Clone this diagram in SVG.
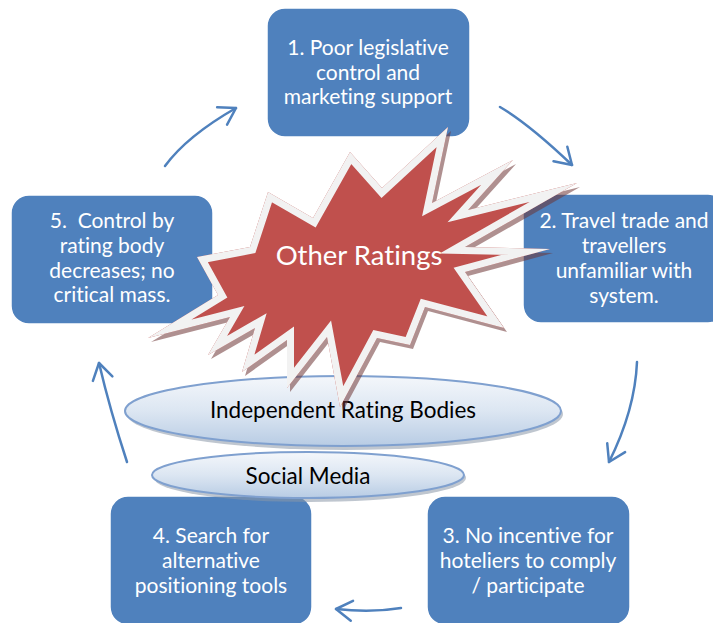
<svg xmlns="http://www.w3.org/2000/svg" xmlns:xlink="http://www.w3.org/1999/xlink" width="713" height="623" viewBox="0 0 713 623">
<style>
text{font-variant-ligatures:none;font-family:Lato,"Liberation Sans",sans-serif;text-anchor:middle}
.box{fill:#4F81BD;stroke:#ffffff;stroke-width:1.5}
.bt{font-size:21px;fill:#ffffff}
.et{font-size:22.5px;fill:#000000}
.arr{fill:none;stroke:#4F81BD;stroke-width:2.5;stroke-linecap:round;marker-end:url(#ah)}
.ell{fill:url(#eg);stroke:#7FA0CF;stroke-width:2}
.esh{fill:#8a97a8;opacity:0.55}
</style>
<defs>
<marker id="ah" markerUnits="userSpaceOnUse" markerWidth="30" markerHeight="30" viewBox="-20 -15 30 30" refX="0" refY="0" orient="auto">
<path d="M-16,-10 L0,0 L-16,10" fill="none" stroke="#4F81BD" stroke-width="2.5" stroke-linecap="round" stroke-linejoin="round"/>
</marker>
<linearGradient id="eg" x1="0" y1="0" x2="0" y2="1">
<stop offset="0" stop-color="#F4F7FB"/>
<stop offset="0.5" stop-color="#DCE6F2"/>
<stop offset="1" stop-color="#B8CCE4"/>
</linearGradient>
<polygon id="starShape" points="350,152 382,188 448,127 432,203 513,160 468,210 577,183 465,247 550,249 465,272 504,328 425,307 410,345 377,338 340,407 327,337 287,388 287,340 242,372 255,328 208,355 230,317 148,338 218,295 197,257 250,247 268,192 313,218"/>
<clipPath id="starClip"><use xlink:href="#starShape"/></clipPath>
</defs>

<g id="box1">
<rect class="box" x="267" y="8" width="203" height="129" rx="18"/>
<text class="bt" x="368" y="55">1. Poor legislative</text>
<text class="bt" x="368" y="80">control and</text>
<text class="bt" x="368" y="104">marketing support</text>
</g>
<g id="box2">
<rect class="box" x="523" y="194" width="203" height="129" rx="18"/>
<text class="bt" x="624" y="228">2. Travel trade and</text>
<text class="bt" x="624" y="253">travellers</text>
<text class="bt" x="624" y="278">unfamiliar with</text>
<text class="bt" x="624" y="303">system.</text>
</g>
<g id="box3">
<rect class="box" x="427" y="496" width="203" height="129" rx="18"/>
<text class="bt" x="528" y="543">3. No incentive for</text>
<text class="bt" x="528" y="568">hoteliers to comply</text>
<text class="bt" x="528" y="593">/ participate</text>
</g>
<g id="box4">
<rect class="box" x="110" y="496" width="202" height="129" rx="18"/>
<text class="bt" x="211" y="543">4. Search for</text>
<text class="bt" x="211" y="568">alternative</text>
<text class="bt" x="211" y="593">positioning tools</text>
</g>
<g id="box5">
<rect class="box" x="11" y="195" width="202" height="129" rx="18"/>
<text class="bt" x="112" y="228" xml:space="preserve">5.  Control by</text>
<text class="bt" x="112" y="253">rating body</text>
<text class="bt" x="112" y="278">decreases; no</text>
<text class="bt" x="112" y="302">critical mass.</text>
</g>

<g id="connectors">
<path class="arr" d="M165,166 Q187,136 236,108"/>
<path class="arr" d="M500,107 Q529,124 572,165"/>
<path class="arr" d="M637,362 Q635,410 609,462"/>
<path class="arr" d="M401,608 Q371,613 336,609"/>
<path class="arr" d="M127,462 Q110,410 99,363"/>
</g>

<g id="socialMedia">
<ellipse class="esh" cx="310" cy="478" rx="156" ry="24"/>
<ellipse class="ell" cx="308" cy="475" rx="156" ry="23"/>
<text class="et" x="308" y="484">Social Media</text>
</g>
<g id="independentRatingBodies">
<ellipse class="esh" cx="345" cy="414" rx="218" ry="36"/>
<ellipse class="ell" cx="343" cy="411" rx="218" ry="35"/>
<text class="et" x="343" y="418">Independent Rating Bodies</text>
</g>

<g id="otherRatings">
<use xlink:href="#starShape" transform="translate(3,4)" fill="#6E3434" opacity="0.55"/>
<use xlink:href="#starShape" fill="#C0504D"/>
<use xlink:href="#starShape" fill="none" stroke="#F2F2F2" stroke-width="14" clip-path="url(#starClip)"/>
<text x="359" y="265" font-size="27.5" fill="#ffffff">Other Ratings</text>
</g>
</svg>
